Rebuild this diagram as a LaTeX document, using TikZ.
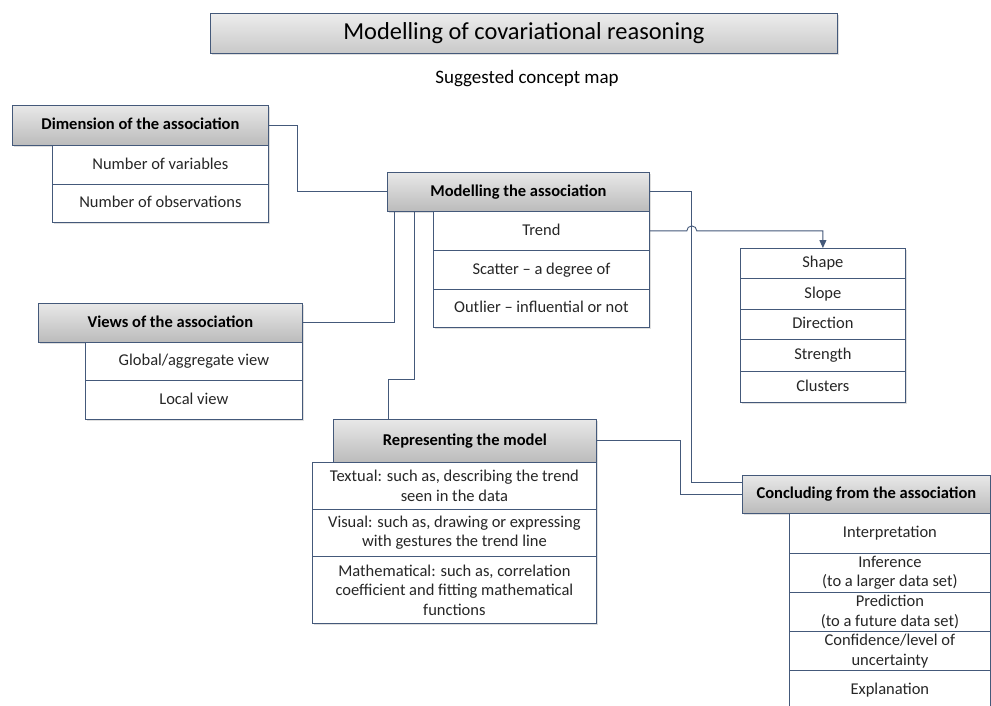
\documentclass[tikz,border=0pt]{standalone}
\usepackage{fontspec}
\setmainfont{Carlito}
\usetikzlibrary{arrows.meta,shadows}
\definecolor{linecol}{HTML}{44597A}
\definecolor{headtop}{HTML}{E8E8E8}
\definecolor{headbot}{HTML}{BBBBBB}
\definecolor{itemtext}{HTML}{262626}

\begin{document}
\begin{tikzpicture}[x=1pt,y=-1pt,
  box/.style={draw=linecol,line width=0.8pt,anchor=north west,inner sep=0pt,align=center,
    font=\fontsize{16.5}{19.5}\selectfont,
    drop shadow={shadow xshift=2pt,shadow yshift=-2pt,opacity=0.25}},
  lines/.style={box,fill=white,text=itemtext},
  item/.style={lines,text height=12pt,text depth=3.5pt},
  head/.style={box,top color=headtop,bottom color=headbot,text height=12pt,text depth=3.5pt,
    font=\fontsize{16.5}{19.5}\selectfont\bfseries},
  link/.style={draw=linecol,line width=0.9pt}]
  \clip (0,0) rectangle (991,706);
  \fill[white] (0,0) rectangle (991,706);

  % title
  \node[head,minimum width=627pt,minimum height=40pt,top color=headtop!80,bottom color=headbot!80,
    text height=17pt,text depth=5pt,
    font=\fontsize{24.4}{28}\selectfont] (title) at (210,13) {Modelling of covariational reasoning};
  \node[font=\fontsize{19}{22}\selectfont] (subtitle) at (527,79) {Suggested concept map};

  % dimension
  \node[head,minimum width=256pt,minimum height=40pt] (dim) at (12,105) {Dimension of the association};
  \node[item,minimum width=216pt,minimum height=39pt] (dimA) at (52,145) {Number of variables};
  \node[item,minimum width=216pt,minimum height=38pt] (dimB) at (52,184) {Number of observations};

  % modelling
  \node[head,minimum width=262pt,minimum height=39pt] (model) at (387,172) {Modelling the association};
  \node[item,minimum width=216pt,minimum height=39pt] (modA) at (433,211) {Trend};
  \node[item,minimum width=216pt,minimum height=39pt] (modB) at (433,250) {Scatter -- a degree of};
  \node[item,minimum width=216pt,minimum height=38pt] (modC) at (433,289) {Outlier -- influential or not};

  % trend features
  \node[item,minimum width=165pt,minimum height=30pt] (trA) at (740,248) {Shape};
  \node[item,minimum width=165pt,minimum height=31pt] (trB) at (740,278) {Slope};
  \node[item,minimum width=165pt,minimum height=30pt] (trC) at (740,309) {Direction};
  \node[item,minimum width=165pt,minimum height=32pt] (trD) at (740,339) {Strength};
  \node[item,minimum width=165pt,minimum height=31pt] (trE) at (740,371) {Clusters};

  % views
  \node[head,minimum width=264pt,minimum height=39pt] (views) at (38,303) {Views of the association};
  \node[item,minimum width=217pt,minimum height=38pt] (viewA) at (85,342) {Global/aggregate view};
  \node[item,minimum width=217pt,minimum height=39pt] (viewB) at (85,380) {Local view};

  % representing
  \node[head,minimum width=263pt,minimum height=43pt] (repr) at (333,419) {Representing the model};
  \node[lines,minimum width=284pt,minimum height=47pt] (reprA) at (312,462) {Textual: such as, describing the trend\\seen in the data};
  \node[lines,minimum width=284pt,minimum height=47pt] (reprB) at (312,509) {Visual: such as, drawing or expressing\\with gestures the trend line};
  \node[lines,minimum width=284pt,minimum height=67pt] (reprC) at (312,556) {Mathematical: such as, correlation\\coefficient and fitting mathematical\\functions};

  % concluding
  \node[head,minimum width=248pt,minimum height=38pt] (concl) at (742,475) {Concluding from the association};
  \node[item,minimum width=201pt,minimum height=40pt] (conclA) at (789,513) {Interpretation};
  \node[lines,minimum width=201pt,minimum height=39pt] (conclB) at (789,553) {Inference\\(to a larger data set)};
  \node[lines,minimum width=201pt,minimum height=39pt] (conclC) at (789,592) {Prediction\\(to a future data set)};
  \node[lines,minimum width=201pt,minimum height=39pt] (conclD) at (789,631) {Confidence/level of\\uncertainty};
  \node[item,minimum width=201pt,minimum height=50pt,text depth=13pt] (conclE) at (789,670) {Explanation};

  % links
  \draw[link] (dim.east) -- ++(29,0) |- (model.west);
  \draw[link] ([xshift=7pt]model.south west) |- (views.east);
  \draw[link] ([xshift=27pt]model.south west) -- ++(0,168) -| ([xshift=55pt]repr.north west);
  \draw[link] (model.east) -- ++(42,0) |- ([yshift=12pt]concl.west);
  \draw[link] (repr.east) -- ++(84,0) |- (concl.west);
  \draw[link,-{Triangle[length=8pt,width=7pt]}] (modA.east) -- ++(37,0)
    arc[start angle=180,end angle=360,radius=5] -| (trA.north);
\end{tikzpicture}
\end{document}
